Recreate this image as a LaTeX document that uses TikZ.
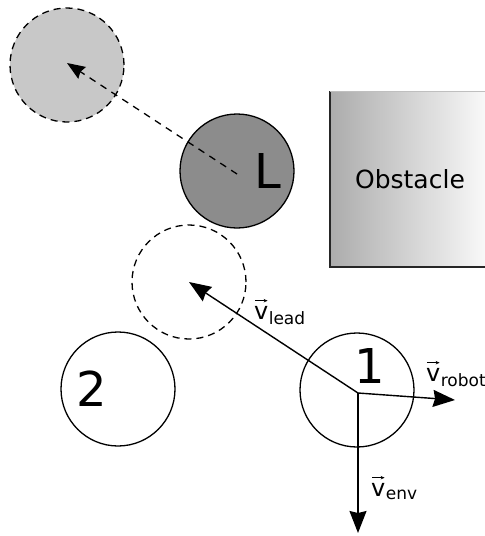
\documentclass[tikz,border=0pt]{standalone}
\usepackage{fontspec}
\setmainfont{DejaVu Sans}
\usetikzlibrary{arrows.meta}
\definecolor{lightdisc}{RGB}{200,200,200}
\definecolor{darkdisc}{RGB}{140,140,140}
\definecolor{obsleft}{RGB}{172,172,172}
\definecolor{obsright}{RGB}{248,248,248}
\tikzset{
  disc/.style={circle, draw=black, line width=1.3pt, minimum size=114pt, inner sep=0pt},
  ghost/.style={disc, dashed, dash pattern=on 7pt off 5pt},
  bignum/.style={font=\fontsize{48}{48}\selectfont, inner sep=0pt, anchor=base},
  vel/.style={line width=1.4pt, -{Stealth[length=22pt,width=17pt,inset=2pt]}},
  vtext/.style={font=\fontsize{24}{24}\selectfont, inner sep=0pt, anchor=base west},
  subtext/.style={font=\fontsize{17}{17}\selectfont, inner sep=0pt, anchor=base west},
  vecarrow/.style={line width=0.7pt, -{Stealth[length=4pt,width=3.5pt]}},
}
\begin{document}
\begin{tikzpicture}[x=1pt,y=-1pt]
\useasboundingbox (0,0) rectangle (485,536);
% obstacle
\shade[left color=obsleft, right color=obsright] (330,91) rectangle (485,267);
\draw[line width=1.2pt, black!85] (330,91) -- (330,267) -- (485,267);
\draw[line width=0.6pt, black!25] (330,91) -- (485,91);
\node[font=\fontsize{25}{25}\selectfont, inner sep=0pt, anchor=base] (obs) at (410,188) {Obstacle};
% discs
\node[ghost, fill=lightdisc] (gL) at (67,65) {};
\node[disc, fill=darkdisc] (L) at (237,171) {};
\node[ghost] (g1) at (189,282) {};
\node[disc] (r2) at (118,389) {};
\node[disc] (r1) at (357,390) {};
% numbers
\node[bignum] (tL) at (268,188) {L};
\node[bignum] (t1) at (370,383) {1};
\node[bignum] (t2) at (92,406) {2};
% vectors
\coordinate (o1) at (358,393);
\coordinate (tipL) at (67,63);
\coordinate (startL) at (237,174);
\coordinate (tiprobot) at (455,400);
\coordinate (tipenv) at (358,533);
\draw[line width=1.3pt, dashed, dash pattern=on 7pt off 6pt, -{Stealth[length=18pt,width=14pt,inset=2pt]}] (startL) -- (tipL);
\draw[vel] (o1) -- (g1.center);
\draw[vel] (o1) -- (tiprobot);
\draw[vel] (o1) -- (tipenv);
% labels
\node[vtext] (vl) at (254,319) {v};
\node[subtext] (vls) at ([yshift=-5pt]vl.base east) {lead};
\draw[vecarrow] ([xshift=1pt,yshift=5pt]vl.north west) -- ([xshift=-1pt,yshift=5pt]vl.north east);
\node[vtext] (vr) at (426,381) {v};
\node[subtext] (vrs) at ([yshift=-5pt]vr.base east) {robot};
\draw[vecarrow] ([xshift=1pt,yshift=5pt]vr.north west) -- ([xshift=-1pt,yshift=5pt]vr.north east);
\node[vtext] (ve) at (371,496) {v};
\node[subtext] (ves) at ([yshift=-3pt]ve.base east) {env};
\draw[vecarrow] ([xshift=1pt,yshift=5pt]ve.north west) -- ([xshift=-1pt,yshift=5pt]ve.north east);
\end{tikzpicture}
\end{document}
